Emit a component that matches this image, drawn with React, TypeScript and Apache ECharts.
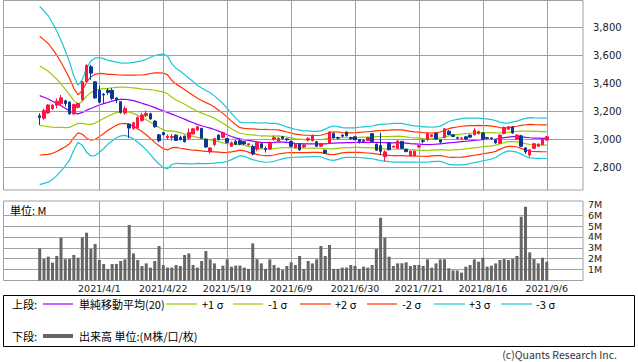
import React, { useEffect, useRef } from 'react';
import * as echarts from 'echarts';

// ---- data ----
const tickLabels = ['2021/4/1', '2021/4/22', '2021/5/19', '2021/6/9', '2021/6/30', '2021/7/21', '2021/8/16', '2021/9/6'];
const tickDataIdx = [14, 29, 44, 59, 74, 89, 104, 119];
const PAD_L = 8;
const PAD_R = 8;

// [open, close, low, high]
const ohlc: number[][] = [
  [3168, 3156, 3102, 3186], [3150, 3205, 3140, 3218], [3188, 3245, 3182, 3250], [3218, 3244, 3210, 3250],
  [3244, 3272, 3222, 3292], [3255, 3296, 3245, 3316], [3275, 3255, 3235, 3282], [3266, 3182, 3175, 3270],
  [3182, 3248, 3172, 3255], [3228, 3255, 3220, 3262], [3282, 3410, 3275, 3415], [3412, 3528, 3405, 3535],
  [3518, 3472, 3425, 3532], [3410, 3295, 3290, 3415], [3350, 3265, 3258, 3380], [3322, 3316, 3258, 3330],
  [3350, 3335, 3318, 3365], [3350, 3292, 3280, 3365], [3295, 3282, 3258, 3300], [3268, 3192, 3182, 3272],
  [3188, 3220, 3175, 3235], [3108, 3080, 3008, 3115], [3078, 3118, 3066, 3125], [3082, 3155, 3075, 3165],
  [3135, 3174, 3125, 3190], [3168, 3185, 3160, 3205], [3182, 3145, 3140, 3190], [3130, 3090, 3082, 3135],
  [3032, 2990, 2978, 3038], [3048, 3033, 3028, 3052], [3012, 3022, 2995, 3035], [3012, 3020, 2990, 3038],
  [3030, 2992, 2988, 3036], [3014, 2999, 2990, 3025], [3022, 2982, 2978, 3028], [3008, 3048, 2998, 3078],
  [3038, 3075, 3035, 3080], [3066, 3090, 3060, 3095], [3078, 3008, 3005, 3082], [3000, 2945, 2938, 3005],
  [2912, 2938, 2898, 2945], [2962, 3005, 2950, 3010], [3030, 2998, 2992, 3035], [3014, 3048, 3008, 3055],
  [3005, 2978, 2970, 3010], [2950, 2975, 2945, 2985], [2985, 2965, 2958, 2995], [2992, 2965, 2958, 3000],
  [2985, 2967, 2960, 2990], [2960, 2968, 2955, 2972], [2948, 2895, 2885, 2962], [2930, 2980, 2915, 2988],
  [2968, 2940, 2935, 2972], [2935, 2928, 2905, 2948], [2930, 2978, 2925, 2985], [3000, 3012, 2990, 3028],
  [2988, 3008, 2982, 3015], [3018, 3005, 3000, 3025], [3003, 2997, 2985, 3008], [2985, 2950, 2945, 2990],
  [2940, 2968, 2935, 2972], [2965, 2925, 2918, 2972], [2945, 2960, 2940, 2965], [2995, 3005, 2985, 3015],
  [2990, 3025, 2985, 3035], [2982, 2950, 2945, 2988], [2950, 2968, 2945, 2972], [2922, 2902, 2895, 2925],
  [2972, 3052, 2968, 3060], [3042, 3010, 3005, 3048], [3012, 3008, 2998, 3018], [3030, 3022, 3015, 3035],
  [3052, 3025, 3020, 3056], [3012, 3005, 2995, 3018], [3018, 2997, 2995, 3020], [2998, 2985, 2970, 3002],
  [2990, 2985, 2975, 3000], [2992, 3012, 2988, 3015], [3040, 2985, 2980, 3045], [2965, 2922, 2918, 2970],
  [2955, 2914, 2888, 3048], [2876, 2910, 2842, 2922], [2975, 2926, 2920, 2978], [2944, 2950, 2940, 2955],
  [2935, 2988, 2930, 2992], [2985, 2935, 2930, 2988], [2930, 2912, 2908, 2932], [2882, 2915, 2878, 2920],
  [2882, 2915, 2878, 2920], [2945, 2955, 2940, 2960], [2990, 2985, 2970, 3000], [2998, 3040, 2985, 3048],
  [3020, 3032, 3015, 3036], [3042, 3002, 2998, 3048], [2995, 2980, 2970, 2998], [3012, 3075, 3008, 3080],
  [3058, 3035, 3030, 3065], [3032, 3020, 3015, 3036], [3012, 3008, 2998, 3018], [3005, 3010, 2998, 3015],
  [3018, 3002, 2995, 3022], [3030, 3015, 3010, 3035], [3032, 3065, 3028, 3080], [3040, 3055, 3035, 3062],
  [3045, 3000, 2995, 3048], [3012, 3008, 2998, 3018], [3010, 3006, 2995, 3014], [2996, 2975, 2968, 3000],
  [2972, 3030, 2968, 3035], [3042, 3085, 3035, 3090], [3072, 3090, 3068, 3095], [3088, 3045, 3040, 3092],
  [3000, 3030, 2995, 3036], [3025, 2950, 2945, 3032], [2938, 2910, 2895, 2945], [2888, 2925, 2875, 2930],
  [2935, 2968, 2930, 2975], [2950, 2965, 2945, 2972], [2962, 2998, 2958, 3002], [2995, 3018, 2990, 3024],
];

// volume in millions
const volume = [
  2.95, 1.97, 2.19, 1.64, 2.25, 3.93, 1.94, 1.97, 2.34, 2.09, 3.96, 4.39, 2.89, 3.35, 1.88, 1.51,
  1.06, 1.51, 1.52, 1.79, 1.94, 5.09, 2.49, 1.88, 1.33, 1.57, 1.18, 1.79, 3.17, 1.42, 1.18, 1.19,
  1.42, 1.33, 2.34, 2.49, 1.42, 1.18, 1.79, 2.71, 1.94, 1.57, 1.06, 1.36, 1.94, 1.27, 1.36, 1.37,
  1.18, 1.06, 3.41, 1.94, 1.57, 1.06, 1.94, 1.42, 1.18, 0.96, 1.33, 1.67, 1.42, 2.25, 1.06, 1.79,
  1.57, 1.94, 3.17, 2.25, 3.26, 1.06, 1.07, 1.18, 1.19, 1.42, 1.33, 1.06, 1.27, 1.18, 1.42, 2.89,
  5.76, 3.93, 2.19, 1.33, 1.57, 1.58, 1.67, 1.33, 1.42, 1.43, 1.34, 1.94, 1.18, 1.57, 1.94, 1.95,
  1.12, 0.93, 0.92, 0.72, 1.27, 1.42, 1.94, 1.73, 2.09, 1.27, 1.36, 1.57, 1.88, 1.97, 1.88, 1.98,
  2.25, 5.86, 6.77, 2.58, 1.97, 1.57, 2.09, 1.73,
];

const sma20 = [
  3312, 3300, 3288, 3272, 3257, 3240, 3221, 3202, 3188, 3182, 3192, 3208, 3220, 3232, 3245, 3255,
  3264, 3273, 3281, 3285, 3286, 3282, 3276, 3267, 3257, 3248, 3238, 3226, 3214, 3203, 3192, 3180,
  3168, 3156, 3144, 3130, 3118, 3107, 3097, 3088, 3080, 3070, 3058, 3045, 3032, 3020, 3010, 3003,
  2998, 2992, 2987, 2982, 2978, 2977, 2976, 2978, 2981, 2980, 2978, 2975, 2971, 2969, 2967, 2967,
  2967, 2967, 2967, 2968, 2970, 2972, 2974, 2975, 2976, 2976, 2977, 2978, 2978, 2978, 2978, 2978,
  2977, 2976, 2975, 2975, 2976, 2975, 2972, 2969, 2967, 2965, 2963, 2962, 2963, 2965, 2968, 2971,
  2974, 2977, 2980, 2983, 2986, 2989, 2992, 2995, 2997, 2999, 3000, 3002, 3006, 3012, 3016, 3019,
  3019, 3017, 3014, 3011, 3009, 3008, 3007, 3007,
];
const sigma = [
  212, 205, 198, 186, 172, 155, 137, 117, 88, 68, 78, 100, 113, 116, 113, 107,
  100, 95, 90, 87, 86, 88, 91, 96, 101, 108, 116, 124, 130, 135, 134, 120,
  113, 110, 106, 102, 98, 93, 90, 87, 84, 80, 75, 70, 63, 55, 47, 40,
  40, 42, 44, 45, 46, 47, 46, 45, 43, 40, 37, 35, 33, 32, 31, 31,
  30, 30, 31, 35, 39, 41, 39, 36, 35, 35, 35, 36, 37, 38, 39, 41,
  43, 44, 45, 46, 46, 46, 45, 44, 43, 43, 42, 42, 41, 41, 42, 46,
  51, 53, 54, 55, 55, 54, 53, 52, 50, 49, 47, 44, 39, 35, 33, 35,
  37, 41, 45, 48, 48, 48, 48, 48,
];

const priceTicks = [2800, 3000, 3200, 3400, 3600, 3800];
const volTicks = [1, 2, 3, 4, 5, 6, 7];
const volGridTicks = [1, 2, 3, 4, 5, 6];

const bandDefs = [
  { k: 1, color: '#99cc00' },
  { k: -1, color: '#99cc00' },
  { k: 2, color: '#ff3300' },
  { k: -2, color: '#ff3300' },
  { k: 3, color: '#1cc6d0' },
  { k: -3, color: '#1cc6d0' },
];

const UP = '#ff1446';
const DOWN = '#0d3694';
const GRIDC = '#a0a0a0';
const NUM_FONT = '"DejaVu Sans", sans-serif';
const JP_FONT = '"Noto Sans CJK JP", sans-serif';

export default function App() {
  const ref = useRef<HTMLDivElement>(null);
  useEffect(() => {
    document.body.style.margin = '0';
    const chart = echarts.init(ref.current!, null, { renderer: 'svg' });
    const n = ohlc.length;
    const total = PAD_L + n + PAD_R;
    const cats: string[] = [];
    for (let k = 0; k < total; k++) {
      const t = tickDataIdx.indexOf(k - PAD_L);
      cats.push(t >= 0 ? tickLabels[t] : 's' + k);
    }
    const pad = (arr: any[]) => [
      ...new Array(PAD_L).fill('-'),
      ...arr,
      ...new Array(PAD_R).fill('-'),
    ];
    const fmt = (v: number) => String(v).replace(/\B(?=(\d{3})+(?!\d))/g, ',');

    const markBase = {
      silent: true,
      symbol: ['none', 'none'],
      label: { show: false },
      lineStyle: { color: GRIDC, width: 1, type: 'solid' },
      emphasis: { disabled: true },
      animation: false,
    };

    const bandSeries = [
      {
        type: 'line', name: 'sma', xAxisIndex: 0, yAxisIndex: 0, z: 3,
        data: pad(sma20), symbol: 'none', lineStyle: { color: '#9900ff', width: 1.2 },
      },
      ...bandDefs.map((b) => ({
        type: 'line', xAxisIndex: 0, yAxisIndex: 0, z: 3,
        data: pad(sma20.map((m, i) => m + b.k * sigma[i])),
        symbol: 'none', lineStyle: { color: b.color, width: 1.2 },
      })),
    ];

    const xBase = {
      type: 'category', data: cats, boundaryGap: true,
      axisLine: { show: false }, axisTick: { show: false }, splitLine: { show: false },
    };

    const jpText = (text: string, x: number, y: number) => ({
      type: 'text', x, y,
      style: { text, fontFamily: JP_FONT, fontSize: 11, fill: '#000', verticalAlign: 'middle' },
    });
    const legLine = (x1: number, x2: number, y: number, stroke: string, w = 1.2) => ({
      type: 'line', shape: { x1, y1: y, x2, y2: y }, style: { stroke, lineWidth: w },
    });

    chart.setOption({
      animation: false,
      backgroundColor: '#ffffff',
      grid: [
        { left: 3.5, top: 0.5, width: 579.5, height: 189.5, show: true, borderColor: GRIDC, borderWidth: 1, backgroundColor: '#fff' },
        { left: 3.5, top: 201, width: 579.5, height: 79.5, show: true, borderColor: GRIDC, borderWidth: 1, backgroundColor: '#fff' },
      ],
      xAxis: [
        { ...xBase, gridIndex: 0, axisLabel: { show: false } },
        {
          ...xBase, gridIndex: 1,
          axisLabel: {
            show: true, interval: (idx: number) => tickDataIdx.indexOf(idx - PAD_L) >= 0,
            fontFamily: NUM_FONT, fontSize: 9.5, color: '#222', margin: 3,
          },
        },
      ],
      yAxis: [
        {
          type: 'value', gridIndex: 0, position: 'right', min: 2638, max: 3991, scale: true,
          axisLine: { show: false }, axisTick: { show: false }, splitLine: { show: false },
          axisLabel: {
            customValues: priceTicks, formatter: (v: number) => fmt(v),
            fontFamily: NUM_FONT, fontSize: 10, color: '#222', margin: 10,
          },
        },
        {
          type: 'value', gridIndex: 1, position: 'right', min: 0, max: 7.3,
          axisLine: { show: false }, axisTick: { show: false }, splitLine: { show: false },
          axisLabel: {
            customValues: volTicks, formatter: (v: number) => v + 'M',
            fontFamily: NUM_FONT, fontSize: 9.5, color: '#222', margin: 5,
          },
        },
      ],
      series: [
        {
          type: 'line', xAxisIndex: 0, yAxisIndex: 0, z: 1, data: pad(new Array(n).fill('-')),
          symbol: 'none',
          markLine: {
            ...markBase,
            data: [
              ...priceTicks.map((v) => ({ yAxis: v })),
              ...tickLabels.map((l) => ({ xAxis: l })),
            ],
          },
        },
        {
          type: 'line', xAxisIndex: 1, yAxisIndex: 1, z: 1, data: pad(new Array(n).fill('-')),
          symbol: 'none',
          markLine: {
            ...markBase,
            data: [
              ...volGridTicks.map((v) => ({ yAxis: v })),
              ...tickLabels.map((l) => ({ xAxis: l })),
            ],
          },
        },
        ...bandSeries,
        {
          type: 'candlestick', xAxisIndex: 0, yAxisIndex: 0, z: 5,
          data: pad(ohlc), barWidth: 3,
          itemStyle: { color: UP, color0: DOWN, borderColor: UP, borderColor0: DOWN, borderWidth: 1 },
        },
        {
          type: 'bar', xAxisIndex: 1, yAxisIndex: 1, z: 5,
          data: pad(volume), barWidth: 3, itemStyle: { color: '#666666' },
        },
      ],
      graphic: [
        { type: 'text', left: 10, top: 204, z: 10, style: { text: '単位: M', fontFamily: JP_FONT, fontSize: 11, fill: '#000' } },
        { type: 'rect', shape: { x: 3.5, y: 295.5, width: 631, height: 51 }, style: { fill: 'none', stroke: '#000', lineWidth: 1 } },
        jpText('上段:', 12, 304),
        legLine(43, 73, 304, '#9900ff'),
        jpText('単純移動平均(20)', 79, 304),
        legLine(166, 197, 304, '#99cc00'),
        jpText('+1 σ', 202, 304),
        legLine(233, 263, 304, '#99cc00'),
        jpText('-1 σ', 268, 304),
        legLine(300, 331, 304, '#ff3300'),
        jpText('+2 σ', 335, 304),
        legLine(367, 397, 304, '#ff3300'),
        jpText('-2 σ', 402, 304),
        legLine(434, 465, 304, '#1cc6d0'),
        jpText('+3 σ', 469, 304),
        legLine(501, 532, 304, '#1cc6d0'),
        jpText('-3 σ', 536, 304),
        jpText('下段:', 12, 336),
        legLine(43, 73, 336, '#666666', 4),
        jpText('出来高 単位:(M株/口/枚)', 79, 336),
        {
          type: 'text', x: 617, y: 354.5,
          style: { text: '(c)Quants Research Inc.', fontFamily: JP_FONT, fontSize: 10.5, fill: '#333', align: 'right', verticalAlign: 'middle' },
        },
      ],
    });
    return () => chart.dispose();
  }, []);
  return (
    <div
      ref={ref}
      style={{ position: 'absolute', left: 0, top: 0, width: 638, height: 362, background: '#fff' }}
    />
  );
}
